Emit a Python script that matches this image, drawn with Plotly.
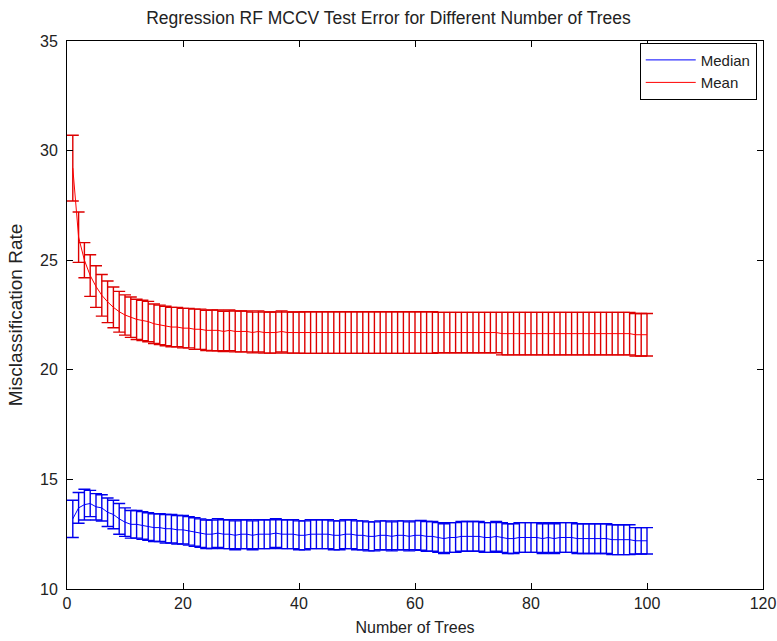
import plotly.graph_objects as go

trees = list(range(1, 101))

mean_vals = [
    29.2, 26.05, 25.0, 24.3, 23.8, 23.4, 23.1, 22.85, 22.65, 22.5,
    22.4, 22.3, 22.25, 22.2, 22.1, 22.05, 22.0, 21.95, 21.95, 21.9,
    21.9, 21.85, 21.85, 21.8, 21.8, 21.8, 21.75, 21.8, 21.75, 21.75,
    21.75, 21.7, 21.75, 21.7, 21.7, 21.7, 21.75, 21.7, 21.7, 21.7,
    21.7, 21.7, 21.7, 21.7, 21.7, 21.7, 21.7, 21.7, 21.7, 21.7,
    21.7, 21.7, 21.7, 21.7, 21.7, 21.7, 21.7, 21.7, 21.7, 21.7,
    21.7, 21.7, 21.7, 21.7, 21.7, 21.7, 21.7, 21.7, 21.7, 21.7,
    21.7, 21.7, 21.7, 21.7, 21.65, 21.65, 21.65, 21.65, 21.65, 21.65,
    21.65, 21.65, 21.65, 21.65, 21.65, 21.65, 21.65, 21.65, 21.65, 21.65,
    21.65, 21.65, 21.65, 21.65, 21.65, 21.65, 21.65, 21.6, 21.6, 21.6,
]
mean_err = [
    1.5, 1.15, 0.8, 0.95, 0.95, 0.95, 0.95, 0.93, 0.93, 0.92,
    0.92, 0.92, 0.92, 0.92, 0.9, 0.9, 0.9, 0.9, 0.9, 0.9,
    0.9, 0.92, 0.92, 0.92, 0.93, 0.93, 0.92, 0.93, 0.93, 0.93,
    0.93, 0.93, 0.94, 0.94, 0.94, 0.94, 0.94, 0.94, 0.94, 0.94,
    0.95, 0.95, 0.95, 0.95, 0.95, 0.95, 0.95, 0.95, 0.95, 0.95,
    0.95, 0.95, 0.95, 0.95, 0.95, 0.95, 0.95, 0.95, 0.95, 0.95,
    0.95, 0.95, 0.95, 0.92, 0.92, 0.92, 0.92, 0.92, 0.92, 0.92,
    0.92, 0.92, 0.92, 0.92, 0.97, 0.97, 0.97, 0.97, 0.97, 0.97,
    0.97, 0.97, 0.97, 0.97, 0.97, 0.97, 0.97, 0.97, 0.97, 0.97,
    0.97, 0.97, 0.97, 0.97, 0.97, 0.97, 0.97, 0.97, 0.97, 0.97,
]

median_vals = [
    13.2, 13.7, 13.85, 13.9, 13.75, 13.7, 13.5, 13.4, 13.2, 13.05,
    12.95, 12.95, 12.9, 12.85, 12.8, 12.8, 12.75, 12.75, 12.7, 12.7,
    12.65, 12.6, 12.55, 12.5, 12.5, 12.55, 12.5, 12.5, 12.45, 12.5,
    12.5, 12.45, 12.5, 12.5, 12.5, 12.55, 12.5, 12.5, 12.5, 12.45,
    12.45, 12.5, 12.5, 12.5, 12.5, 12.45, 12.45, 12.5, 12.5, 12.45,
    12.45, 12.4, 12.4, 12.45, 12.45, 12.4, 12.45, 12.45, 12.4, 12.45,
    12.45, 12.4, 12.4, 12.35, 12.3, 12.35, 12.35, 12.4, 12.4, 12.4,
    12.4, 12.35, 12.35, 12.4, 12.35, 12.3, 12.3, 12.35, 12.35, 12.35,
    12.35, 12.3, 12.35, 12.3, 12.35, 12.35, 12.35, 12.3, 12.3, 12.3,
    12.3, 12.3, 12.3, 12.25, 12.25, 12.25, 12.25, 12.2, 12.2, 12.2,
]
median_err = [
    0.85, 0.7, 0.7, 0.6, 0.6, 0.6, 0.65, 0.65, 0.7, 0.65,
    0.63, 0.63, 0.63, 0.63, 0.63, 0.63, 0.65, 0.65, 0.65, 0.65,
    0.65, 0.65, 0.65, 0.65, 0.65, 0.66, 0.66, 0.66, 0.66, 0.66,
    0.66, 0.66, 0.66, 0.66, 0.66, 0.66, 0.66, 0.66, 0.66, 0.66,
    0.66, 0.66, 0.66, 0.66, 0.66, 0.66, 0.66, 0.66, 0.66, 0.66,
    0.66, 0.66, 0.66, 0.66, 0.66, 0.66, 0.66, 0.66, 0.66, 0.66,
    0.68, 0.68, 0.68, 0.68, 0.68, 0.68, 0.68, 0.68, 0.68, 0.68,
    0.68, 0.68, 0.68, 0.68, 0.68, 0.68, 0.68, 0.68, 0.68, 0.68,
    0.68, 0.68, 0.68, 0.68, 0.68, 0.68, 0.68, 0.68, 0.68, 0.68,
    0.68, 0.68, 0.68, 0.68, 0.68, 0.68, 0.68, 0.6, 0.6, 0.6,
]

x_ticks = [0, 20, 40, 60, 80, 100, 120]
y_ticks = [10, 15, 20, 25, 30, 35]

FONT = "Liberation Sans, Arial, sans-serif"

fig = go.Figure()
fig.add_trace(go.Scatter(
    x=trees, y=median_vals, mode="lines", name="Median",
    line=dict(color="#0000ff", width=1),
    error_y=dict(type="data", array=median_err, visible=True,
                 color="#0000ee", thickness=1.4, width=6),
))
fig.add_trace(go.Scatter(
    x=trees, y=mean_vals, mode="lines", name="Mean",
    line=dict(color="#ff0000", width=1),
    error_y=dict(type="data", array=mean_err, visible=True,
                 color="#dd0000", thickness=1.4, width=6),
))

axis_common = dict(
    showline=True, linecolor="black", linewidth=1, mirror="ticks",
    ticks="inside", ticklen=6, tickcolor="black", tickwidth=1,
    showgrid=False, zeroline=False, automargin=False,
    tickfont=dict(family=FONT, size=16, color="#222222"),
)

fig.update_layout(
    width=777, height=641,
    margin=dict(l=67, r=14, t=41, b=52),
    paper_bgcolor="white", plot_bgcolor="white",
    title=dict(text="Regression RF MCCV Test Error for Different Number of Trees",
               x=0.5, xanchor="center", y=0.972, yanchor="middle",
               font=dict(family=FONT, size=17.5, color="#222222")),
    xaxis=dict(range=[0, 120], tickvals=x_ticks, ticktext=[str(v) for v in x_ticks],
               title=dict(text="Number of Trees", font=dict(family=FONT, size=16, color="#222222"),
                          standoff=10),
               **axis_common),
    yaxis=dict(range=[10, 35], tickvals=y_ticks, ticktext=[str(v) for v in y_ticks],
               ticklabelstandoff=5,
               title=dict(text="Misclassification Rate", font=dict(family=FONT, size=19, color="#222222"),
                          standoff=12),
               **axis_common),
    legend=dict(x=0.991, y=0.997, xanchor="right", yanchor="top",
                bgcolor="white", bordercolor="black", borderwidth=1,
                font=dict(family=FONT, size=15, color="#222222"),
                tracegroupgap=0, itemwidth=50),
    showlegend=True,
)

fig.write_html("out.html")
